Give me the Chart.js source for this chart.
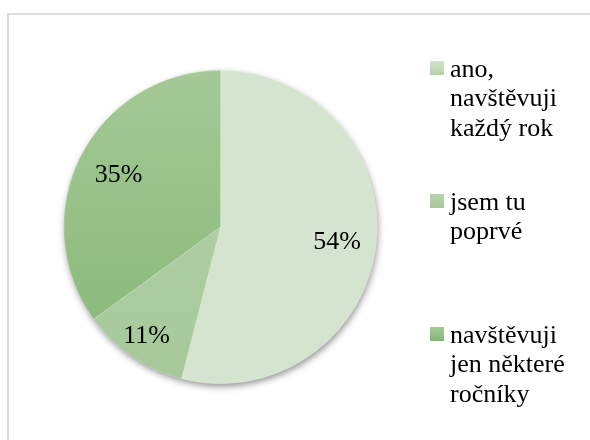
<!DOCTYPE html>
<html>
<head>
<meta charset="utf-8">
<script src="https://cdn.jsdelivr.net/npm/chart.js@4/dist/chart.umd.min.js"></script>
<style>
  html, body { margin: 0; padding: 0; background: #ffffff; }
  #wrap { position: relative; width: 590px; height: 440px; overflow: hidden; }
  #frame { position: absolute; left: 7px; top: 13px; width: 600px; height: 450px;
           border-left: 2px solid #dcdcdc; border-top: 2px solid #dcdcdc; box-sizing: border-box; }
  #c { position: absolute; left: 0; top: 0; }
  #legend { position: absolute; left: 430px; top: 53.5px; width: 160px;
            font-family: "Liberation Serif", "Times New Roman", serif; font-size: 26px;
            line-height: 29.5px; color: #000; }
  .item { position: relative; height: 133px; }
  .sw { position: absolute; left: 0; top: 7.5px; width: 14px; height: 14px; }
  .tx { position: absolute; left: 20px; top: 0; width: 132px; }
</style>
</head>
<body>
<div id="wrap">
  <div id="frame"></div>
  <canvas id="c" width="590" height="440"></canvas>
  <div id="legend"></div>
</div>
<script>
const categories = ["ano, navštěvuji každý rok", "jsem tu poprvé", "navštěvuji jen některé ročníky"];
const values = [54, 11, 35];
const valueLabels = ["54%", "11%", "35%"];
const topColors = ["#d4e4ce", "#b6d4aa", "#a4c996"];
const bottomColors = ["#b5cfaa", "#a6c899", "#86b776"];
const labelRadius = [0.75, 0.84, 0.73];

const ctx = document.getElementById('c').getContext('2d');

function makeGradient(chart, i) {
  const meta = chart.getDatasetMeta(0);
  const arc = meta.data[0];
  if (!arc || !arc.outerRadius) return topColors[i];
  const g = chart.ctx.createLinearGradient(0, arc.y - arc.outerRadius, 0, arc.y + arc.outerRadius);
  g.addColorStop(0, topColors[i]);
  g.addColorStop(1, bottomColors[i]);
  return g;
}

const shadowPlugin = {
  id: 'pieShadow',
  beforeDatasetsDraw(chart) {
    const arc = chart.getDatasetMeta(0).data[0];
    if (!arc) return;
    const c = chart.ctx;
    c.save();
    c.shadowColor = 'rgba(0,0,0,0.45)';
    c.shadowBlur = 7;
    c.shadowOffsetX = 1;
    c.shadowOffsetY = 3;
    c.fillStyle = '#b9d2af';
    c.beginPath();
    c.arc(arc.x, arc.y, arc.outerRadius - 0.5, 0, Math.PI * 2);
    c.fill();
    c.restore();
  }
};

const labelPlugin = {
  id: 'sliceLabels',
  afterDatasetsDraw(chart) {
    const meta = chart.getDatasetMeta(0);
    const c = chart.ctx;
    c.save();
    c.font = '26px "Liberation Serif", "Times New Roman", serif';
    c.fillStyle = '#000';
    c.textAlign = 'center';
    c.textBaseline = 'middle';
    meta.data.forEach((arc, i) => {
      const mid = (arc.startAngle + arc.endAngle) / 2;
      const r = arc.outerRadius * labelRadius[i];
      c.fillText(valueLabels[i], arc.x + Math.cos(mid) * r, arc.y + Math.sin(mid) * r);
    });
    c.restore();
  }
};

new Chart(ctx, {
  type: 'pie',
  data: {
    labels: categories,
    datasets: [{
      data: values,
      backgroundColor: (context) => makeGradient(context.chart, context.dataIndex),
      borderColor: 'rgba(255,255,255,0.35)',
      borderWidth: 0.6
    }]
  },
  options: {
    responsive: false,
    animation: false,
    rotation: 0,
    layout: { padding: { left: 63, right: 212, top: 70, bottom: 56 } },
    plugins: {
      legend: { display: false },
      tooltip: { enabled: false }
    }
  },
  plugins: [shadowPlugin, labelPlugin]
});

const legend = document.getElementById('legend');
categories.forEach((name, i) => {
  const item = document.createElement('div');
  item.className = 'item';
  const sw = document.createElement('div');
  sw.className = 'sw';
  sw.style.background = 'linear-gradient(' + topColors[i] + ',' + bottomColors[i] + ')';
  const tx = document.createElement('div');
  tx.className = 'tx';
  tx.textContent = name;
  item.appendChild(sw);
  item.appendChild(tx);
  legend.appendChild(item);
});
</script>
</body>
</html>
